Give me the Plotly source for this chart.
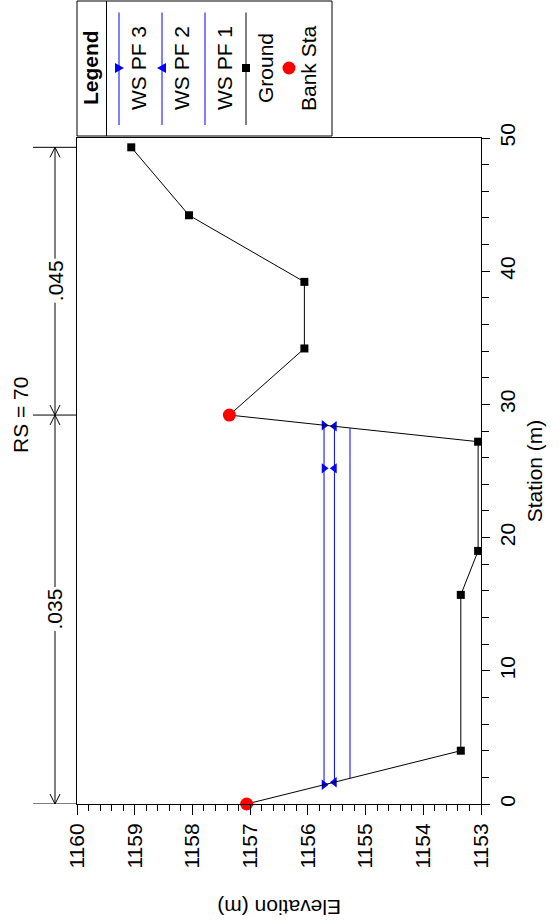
import plotly.graph_objects as go

# ---------------- data ----------------
ground_station = [0.0, 4.0, 15.7, 19.0, 27.2, 29.2, 34.2, 39.2, 44.2, 49.3]
ground_elev = [1157.06, 1153.35, 1153.35, 1153.05, 1153.05, 1157.36, 1156.06, 1156.06, 1158.06, 1159.06]

bank_station = [0.0, 29.2]
bank_elev = [1157.06, 1157.36]

ws3_station = [1.44, 25.2, 28.44]
ws3_elev = [1155.72, 1155.72, 1155.72]
ws2_station = [1.63, 25.2, 28.36]
ws2_elev = [1155.54, 1155.54, 1155.54]
ws1_station = [1.92, 28.23]
ws1_elev = [1155.27, 1155.27]

elev_ticks = [1153, 1154, 1155, 1156, 1157, 1158, 1159, 1160]
station_ticks = [0, 10, 20, 30, 40, 50]
n_values = [".035", ".045"]
title_text = "RS = 70"

# ---------------- layout geometry (pixels) ----------------
W, H = 560, 924
L, R, T, B = 77, 481, 138, 804
FONT = "Liberation Sans, Arial, sans-serif"
FS = 21


def px(xp):
    return (xp - L) / (R - L)


def py(yp):
    return (B - yp) / (B - T)


STA_PER_PX = 50.0 / (B - T)

fig = go.Figure()

fig.add_trace(go.Scatter(x=ws3_elev, y=ws3_station, mode="lines+markers", name="WS PF 3",
                         line=dict(color="#0000FF", width=1),
                         marker=dict(symbol="triangle-right", size=9, color="#0000FF")))
fig.add_trace(go.Scatter(x=ws2_elev, y=ws2_station, mode="lines+markers", name="WS PF 2",
                         line=dict(color="#0000FF", width=1),
                         marker=dict(symbol="triangle-left", size=9, color="#0000FF")))
fig.add_trace(go.Scatter(x=ws1_elev, y=ws1_station, mode="lines", name="WS PF 1",
                         line=dict(color="#0000FF", width=1)))
fig.add_trace(go.Scatter(x=ground_elev, y=ground_station, mode="lines+markers", name="Ground",
                         line=dict(color="black", width=1),
                         marker=dict(symbol="square", size=8, color="black")))
fig.add_trace(go.Scatter(x=bank_elev, y=bank_station, mode="markers", name="Bank Sta",
                         marker=dict(symbol="circle", size=13, color="#FF0000"),
                         cliponaxis=False))

shapes = []
annotations = []
line_k = dict(color="black", width=1)

# ---- dimension lines (Manning's n) ----
xd = px(55)
x_ext0 = px(33)
dim_stations = [ground_station[0], bank_station[1], ground_station[-1]]
for s in dim_stations:
    shapes.append(dict(type="line", xref="paper", yref="y", x0=x_ext0, x1=px(L), y0=s, y1=s, line=line_k))
shapes.append(dict(type="line", xref="paper", yref="y", x0=xd, x1=xd,
                   y0=dim_stations[0], y1=dim_stations[-1], line=line_k))
ah = 10 * STA_PER_PX
aw = 5 / (R - L)


def arrow(s, up):
    d = -ah if up else ah
    return dict(type="path", xref="paper", yref="y",
                path=f"M {xd-aw},{s+d} L {xd},{s} L {xd+aw},{s+d}", line=line_k)


for i in range(len(dim_stations) - 1):
    a, b = dim_stations[i], dim_stations[i + 1]
    shapes.append(arrow(a, up=False))
    shapes.append(arrow(b, up=True))
    annotations.append(dict(xref="paper", yref="y", x=xd, y=(a + b) / 2, text=n_values[i],
                            textangle=-90, showarrow=False, bgcolor="white",
                            font=dict(family=FONT, size=FS, color="black"),
                            xanchor="center", yanchor="middle"))

# title
annotations.append(dict(xref="paper", yref="paper", x=px(20), y=py(415), text=title_text,
                        textangle=-90, showarrow=False, xanchor="center", yanchor="middle",
                        font=dict(family=FONT, size=FS, color="black")))
# elevation axis title (upside down)
annotations.append(dict(xref="paper", yref="paper", x=px(279), y=py(908), text="Elevation (m)",
                        textangle=180, showarrow=False, xanchor="center", yanchor="middle",
                        font=dict(family=FONT, size=FS, color="black")))

# ---- custom legend ----
shapes.append(dict(type="rect", xref="paper", yref="paper", x0=px(77), x1=px(332), y0=py(1), y1=py(136),
                   line=line_k, fillcolor="white"))
shapes.append(dict(type="line", xref="paper", yref="paper", x0=px(106.5), x1=px(106.5), y0=py(1), y1=py(136),
                   line=line_k))
annotations.append(dict(xref="paper", yref="paper", x=px(90), y=py(68), text="<b>Legend</b>",
                        textangle=-90, showarrow=False, xanchor="center", yanchor="middle",
                        font=dict(family=FONT, size=FS, color="black")))
leg_items = [("WS PF 3", 119, "#0000FF", "tri-r"), ("WS PF 2", 162, "#0000FF", "tri-l"),
             ("WS PF 1", 205, "#0000FF", None), ("Ground", 246, "black", "sq"),
             ("Bank Sta", 289, "#FF0000", "circ")]
for name, lx, col, sym in leg_items:
    if sym != "circ":
        shapes.append(dict(type="line", xref="paper", yref="paper", x0=px(lx), x1=px(lx),
                           y0=py(12.5), y1=py(125), line=dict(color=col, width=1)))
    cy = 68
    if sym == "tri-r":
        shapes.append(dict(type="path", xref="paper", yref="paper",
                           path=f"M {px(lx-4)},{py(cy-5)} L {px(lx-4)},{py(cy+5)} L {px(lx+5)},{py(cy)} Z",
                           fillcolor=col, line=dict(color=col, width=0)))
    elif sym == "tri-l":
        shapes.append(dict(type="path", xref="paper", yref="paper",
                           path=f"M {px(lx+4)},{py(cy-5)} L {px(lx+4)},{py(cy+5)} L {px(lx-5)},{py(cy)} Z",
                           fillcolor=col, line=dict(color=col, width=0)))
    elif sym == "sq":
        shapes.append(dict(type="rect", xref="paper", yref="paper", x0=px(lx-4), x1=px(lx+4),
                           y0=py(cy-4), y1=py(cy+4), fillcolor=col, line=dict(color=col, width=0)))
    elif sym == "circ":
        shapes.append(dict(type="circle", xref="paper", yref="paper", x0=px(lx-6.5), x1=px(lx+6.5),
                           y0=py(cy-6.5), y1=py(cy+6.5), fillcolor=col, line=dict(color=col, width=0)))
    annotations.append(dict(xref="paper", yref="paper", x=px(lx + 19), y=py(68), text=name,
                            textangle=-90, showarrow=False, xanchor="center", yanchor="middle",
                            font=dict(family=FONT, size=FS, color="black")))

fig.update_layout(
    width=W, height=H,
    margin=dict(l=L, r=W - R, t=T, b=H - B, pad=0),
    paper_bgcolor="white", plot_bgcolor="white",
    showlegend=False,
    font=dict(family=FONT, size=FS, color="black"),
    shapes=shapes, annotations=annotations,
    xaxis=dict(range=[1160, 1153], tickvals=elev_ticks, tickangle=-90,
               ticks="outside", ticklen=10, tickcolor="black", tickwidth=1,
               minor=dict(dtick=0.2, ticks="outside", ticklen=6, tickcolor="black", showgrid=False),
               showline=True, linecolor="black", linewidth=1, mirror=True,
               showgrid=False, zeroline=False, tickfont=dict(family=FONT, size=FS)),
    yaxis=dict(range=[0, 50], tickvals=station_ticks, side="right", tickangle=-90,
               ticks="outside", ticklen=8, tickcolor="black", tickwidth=1,
               minor=dict(dtick=2, ticks="outside", ticklen=7, tickcolor="black", showgrid=False),
               showline=True, linecolor="black", linewidth=1, mirror=True,
               showgrid=False, zeroline=False, tickfont=dict(family=FONT, size=FS),
               title=dict(text="Station (m)", font=dict(family=FONT, size=FS), standoff=9)),
)

fig.write_html("out.html", config={"displayModeBar": False},
               post_script="document.body.style.margin='0';document.body.style.overflow='hidden';")
